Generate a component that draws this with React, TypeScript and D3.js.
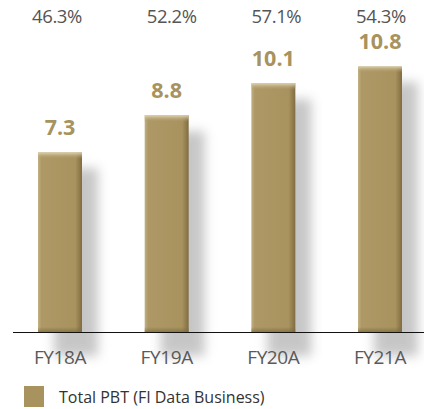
import React from "react";
import * as d3 from "d3";

const categories = ["FY18A", "FY19A", "FY20A", "FY21A"];
const pbtValues = [7.3, 8.8, 10.1, 10.8];
const pctLabels = ["46.3%", "52.2%", "57.1%", "54.3%"];
const legendLabel = "Total PBT (FI Data Business)";

const W = 424;
const H = 409;

export default function App() {
  const x = d3.scalePoint<string>().domain(categories).range([60, 380]);
  const y = d3.scaleLinear().domain([0, 10.8]).range([332, 66]);
  const bw = 44;
  const gold = "#a8935f";
  const font = "'Open Sans', 'Noto Sans', sans-serif";

  return (
    <svg
      width={W}
      height={H}
      style={{ position: "absolute", left: 0, top: 0, display: "block", background: "#fff" }}
    >
      <defs>
        <linearGradient id="barGrad" x1="0" x2="1" y1="0" y2="0">
          <stop offset="0" stopColor="#c2b185" />
          <stop offset="0.08" stopColor="#ae9865" />
          <stop offset="0.85" stopColor="#a8925e" />
          <stop offset="1" stopColor="#7f6c40" />
        </linearGradient>
        <linearGradient id="capGrad" x1="0" x2="0" y1="0" y2="1">
          <stop offset="0" stopColor="#e2d6b8" />
          <stop offset="1" stopColor="#a8925e" stopOpacity="0" />
        </linearGradient>
        <linearGradient id="botGrad" x1="0" x2="0" y1="0" y2="1">
          <stop offset="0" stopColor="#7a6a40" stopOpacity="0" />
          <stop offset="1" stopColor="#7a6a40" stopOpacity="0.7" />
        </linearGradient>
        <filter id="shadow" x="-50%" y="-20%" width="200%" height="150%">
          <feGaussianBlur stdDeviation="5.5" />
        </filter>
      </defs>

      {categories.map((c, i) => (
        <rect
          key={"s" + c}
          x={(x(c) as number) - bw / 2 + 16}
          y={y(pbtValues[i]) + 16}
          width={bw}
          height={332 - y(pbtValues[i]) + 8}
          fill="#c4c4c4"
          opacity={0.95}
          filter="url(#shadow)"
        />
      ))}

      {categories.map((c, i) => {
        const bx = (x(c) as number) - bw / 2;
        const by = y(pbtValues[i]);
        const bh = 332 - by;
        return (
          <g key={"b" + c}>
            <rect x={bx} y={by} width={bw} height={bh} fill="url(#barGrad)" />
            <rect x={bx} y={by} width={bw} height={7} fill="url(#capGrad)" />
            <rect x={bx} y={332 - 5} width={bw} height={5} fill="url(#botGrad)" />
          </g>
        );
      })}

      <line x1={13} x2={W} y1={332.5} y2={332.5} stroke="#111" strokeWidth={1.2} />

      {categories.map((c, i) => (
        <text
          key={"v" + c}
          x={x(c) as number}
          y={y(pbtValues[i]) - 17}
          textAnchor="middle"
          fontFamily={font}
          fontWeight={700}
          fontSize={21.5}
          fill="#a8925e"
        >
          {pbtValues[i].toFixed(1)}
        </text>
      ))}

      {categories.map((c, i) => (
        <text
          key={"p" + c}
          x={(x(c) as number) + [-3, 5, 3, 1][i]}
          y={23}
          textAnchor="middle"
          fontFamily={font}
          fontSize={18.5}
          letterSpacing={-0.4}
          fill="#555"
        >
          {pctLabels[i]}
        </text>
      ))}

      {categories.map((c) => (
        <text
          key={"c" + c}
          x={x(c) as number}
          y={364}
          textAnchor="middle"
          fontFamily={font}
          fontSize={19}
          letterSpacing={-0.4}
          fill="#5a5a5a"
        >
          {c}
        </text>
      ))}

      <rect x={24} y={386} width={20} height={21} fill={gold} />
      <text x={59} y={403} fontFamily={font} fontSize={16} fill="#333">
        {legendLabel}
      </text>
    </svg>
  );
}
